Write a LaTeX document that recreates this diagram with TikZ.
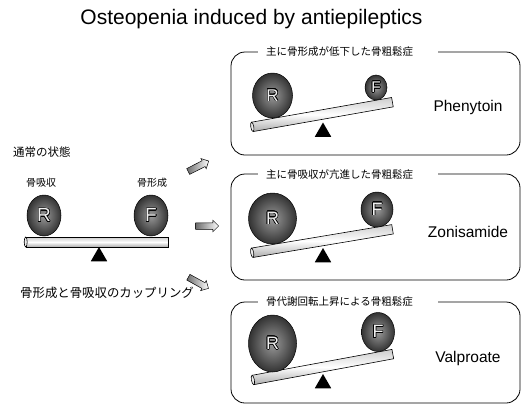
\documentclass[tikz,border=0pt]{standalone}
\usepackage{fontspec}
\setmainfont{Liberation Sans}
\newfontfamily\jpfont{Noto Sans CJK JP}
\usepackage[copies]{contour}
\contourlength{0.6pt}
\usetikzlibrary{positioning,shapes.geometric,shapes.arrows}
\newcommand{\ltr}[1]{\contour{black}{\textcolor{gray!12}{#1}}}
\tikzset{
  frame/.style={draw, line width=0.8pt, rounded corners=14pt},
  ttl/.style={fill=white, anchor=west, inner xsep=8pt, inner ysep=1pt, text width=164pt, font=\jpfont\fontsize{10.5}{12}\selectfont},
  jp/.style={font=\jpfont\fontsize{#1}{14}\selectfont, inner sep=1pt},
  drug/.style={font=\fontsize{15.5}{18}\selectfont},
  rod/.style={draw, line width=0.6pt, inner sep=0pt, minimum height=9.5pt, minimum width=142pt, top color=gray!40, bottom color=gray!65, middle color=white},
  rodend/.style={ellipse, draw, line width=0.6pt, fill=gray!15, inner sep=0pt, minimum width=3pt, minimum height=9.5pt},
  ball/.style={ellipse, draw, line width=0.5pt, inner sep=0pt, inner color=gray!80, outer color=black!80, font=\fontsize{#1}{#1}\selectfont},
  pivot/.style={regular polygon, regular polygon sides=3, fill=black, inner sep=0pt, minimum size=19pt},
  barrow/.style={single arrow, draw, line width=0.5pt, inner xsep=0pt, inner ysep=3pt, minimum height=23pt, single arrow head extend=2.5pt, left color=gray!85!black, right color=white},
}
\begin{document}
\begin{tikzpicture}[x=1pt, y=-1pt]
\useasboundingbox (0,0) rectangle (521,405);
\node[font=\fontsize{21}{24}\selectfont] (title) at (251.5,19) {Osteopenia induced by antiepileptics};
% normal state
\node[jp=11.5, anchor=west] (normal) at (12,152) {通常の状態};
\node[jp=10] (lres) at (41,183) {骨吸収};
\node[jp=10] (lform) at (152,183) {骨形成};
\node[rod, minimum height=10pt, minimum width=142pt] (rod0) at (97,242) {};
\node[rodend, minimum height=10pt] (end0) at (rod0.west) {};
\node[pivot] (piv0) at (99,256.5) {};
\node[ball=19, minimum width=34pt, minimum height=41pt] (r0) at (44,215.5) {\ltr{R}};
\node[ball=19, minimum width=34pt, minimum height=41pt] (f0) at (151,215.5) {\ltr{F}};
\node[jp=12.4, anchor=west] (coupling) at (19,293) {骨形成と骨吸収のカップリング};
% arrows
\node[barrow, rotate=27] (ar1) at (197,167) {};
\node[barrow] (ar2) at (205.5,226) {};
\node[barrow, rotate=-29] (ar3) at (197,282) {};
% box 1
\draw[frame] (231,52) rectangle (520,155);
\node[ttl] (t1) at (258,52) {主に骨形成が低下した骨粗鬆症};
\node[rod, rotate=10] (rod1) at (322.5,114.5) {};
\node[rodend, rotate=10] (end1) at (rod1.west) {};
\node[pivot] (piv1) at (323,132) {};
\node[ball=17, minimum width=40pt, minimum height=45pt] (r1) at (272.5,95.5) {\ltr{R}};
\node[ball=15.5, minimum width=22pt, minimum height=25pt] (f1) at (376,87.5) {\ltr{F}};
\node[drug] (d1) at (468,107) {Phenytoin};
% box 2
\draw[frame] (231,174) rectangle (520,280);
\node[ttl] (t2) at (258,174) {主に骨吸収が亢進した骨粗鬆症};
\node[rod, rotate=9.5] (rod2) at (322.5,241) {};
\node[rodend, rotate=9.5] (end2) at (rod2.west) {};
\node[pivot] (piv2) at (323,257.5) {};
\node[ball=18, minimum width=48pt, minimum height=51pt] (r2) at (272.5,218.5) {\ltr{R}};
\node[ball=18, minimum width=32pt, minimum height=35pt] (f2) at (377,209.5) {\ltr{F}};
\node[drug] (d2) at (468,232) {Zonisamide};
% box 3
\draw[frame] (231,302) rectangle (520,403);
\node[ttl] (t3) at (258,302) {骨代謝回転上昇による骨粗鬆症};
\node[rod, rotate=10.5] (rod3) at (323,367) {};
\node[rodend, rotate=10.5] (end3) at (rod3.west) {};
\node[pivot] (piv3) at (323,383.5) {};
\node[ball=18, minimum width=48pt, minimum height=57pt] (r3) at (272.5,343.5) {\ltr{R}};
\node[ball=18, minimum width=33pt, minimum height=39pt] (f3) at (378,332) {\ltr{F}};
\node[drug] (d3) at (468,358) {Valproate};
\end{tikzpicture}
\end{document}
